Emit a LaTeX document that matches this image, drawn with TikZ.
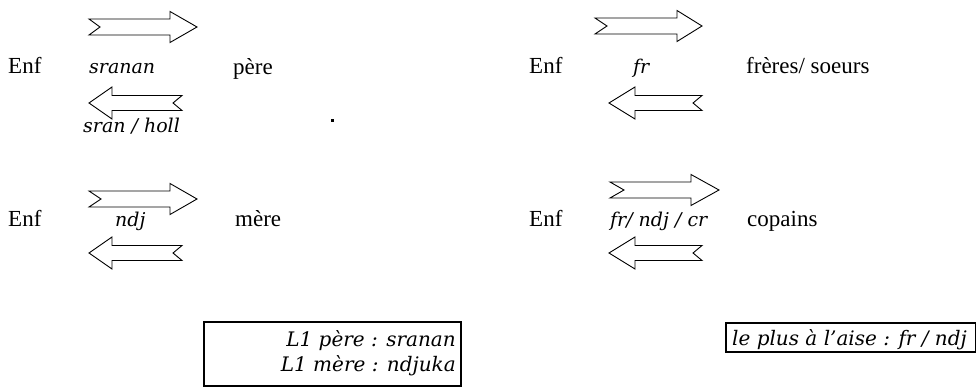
\documentclass[tikz,border=0pt]{standalone}
\usepackage{fontspec}
\setmainfont{Liberation Serif}
\newfontfamily\itf{DejaVu Serif}
\tikzset{
  up/.style={font=\fontsize{23}{27}\selectfont, inner sep=0pt, anchor=base west},
  itl/.style={font=\itf\itshape\fontsize{19}{22}\selectfont, inner sep=0pt, anchor=base west},
  itbox/.style={font=\itf\itshape\fontsize{20}{24}\selectfont, inner sep=0pt, anchor=base east},
  blk/.style={draw, line width=0.9pt, fill=white, line join=miter},
  boxst/.style={draw, line width=1.3pt}
}
% right-pointing block arrow: x0 xnotch xhead xtip ymid
\newcommand\RArr[5]{%
  \draw[blk] (#1,#5-8) -- (#3,#5-8) -- (#3,#5-15.5) -- (#4,#5) -- (#3,#5+15.5)
    -- (#3,#5+8) -- (#1,#5+8) -- (#2,#5) -- cycle;}
% left-pointing block arrow: xtip xhead xnotch xend ymid
\newcommand\LArr[5]{%
  \draw[blk] (#1,#5) -- (#2,#5-16) -- (#2,#5-7.5) -- (#4,#5-7.5) -- (#3,#5)
    -- (#4,#5+7.5) -- (#2,#5+7.5) -- (#2,#5+16) -- cycle;}
\begin{document}
\begin{tikzpicture}[x=1pt,y=-1pt]
\useasboundingbox (0,0) rectangle (976,387);
% ---- row 1, left
\RArr{89}{100}{170}{197}{27}
\LArr{89}{112}{173}{182}{103}
\node[up] (enf1) at (8,74) {Enf};
\node[itl] (l1) at (89,74) {sranan};
\node[up] (pere) at (233,75) {père};
\node[itl] (l2) at (83,133) {sran / holl};
\fill (331,119.5) rectangle (334,122) coordinate (dot);
% ---- row 1, right
\RArr{595}{607}{677}{702}{26}
\LArr{609}{635}{693}{702}{103}
\node[up] (enf2) at (529,74) {Enf};
\node[itl] (l3) at (633,74) {fr};
\node[up] (freres) at (746,74) {frères/ soeurs};
% ---- row 2, left
\RArr{89}{101}{170}{197}{199}
\LArr{89}{112}{173}{182}{253}
\node[up] (enf3) at (8,227) {Enf};
\node[itl] (l4) at (115,227) {ndj};
\node[up] (mere) at (235,227) {mère};
% ---- row 2, right
\RArr{610}{624}{691}{719}{190}
\LArr{609}{635}{693}{702}{253}
\node[up] (enf4) at (529,227) {Enf};
\node[itl] (l5) at (610,227) {fr/ ndj / cr};
\node[up] (copains) at (747,227) {copains};
% ---- boxes
\draw[boxst] (204,322) rectangle (461,386);
\node[itbox] (b1a) at (456,346) {L1 père : sranan};
\node[itbox] (b1b) at (456,371) {L1 mère : ndjuka};
\draw[boxst] (726,323) rectangle (975.3,352);
\node[itbox, anchor=base west] (b2) at (732,345) {le plus à l’aise : fr / ndj};
\end{tikzpicture}
\end{document}
